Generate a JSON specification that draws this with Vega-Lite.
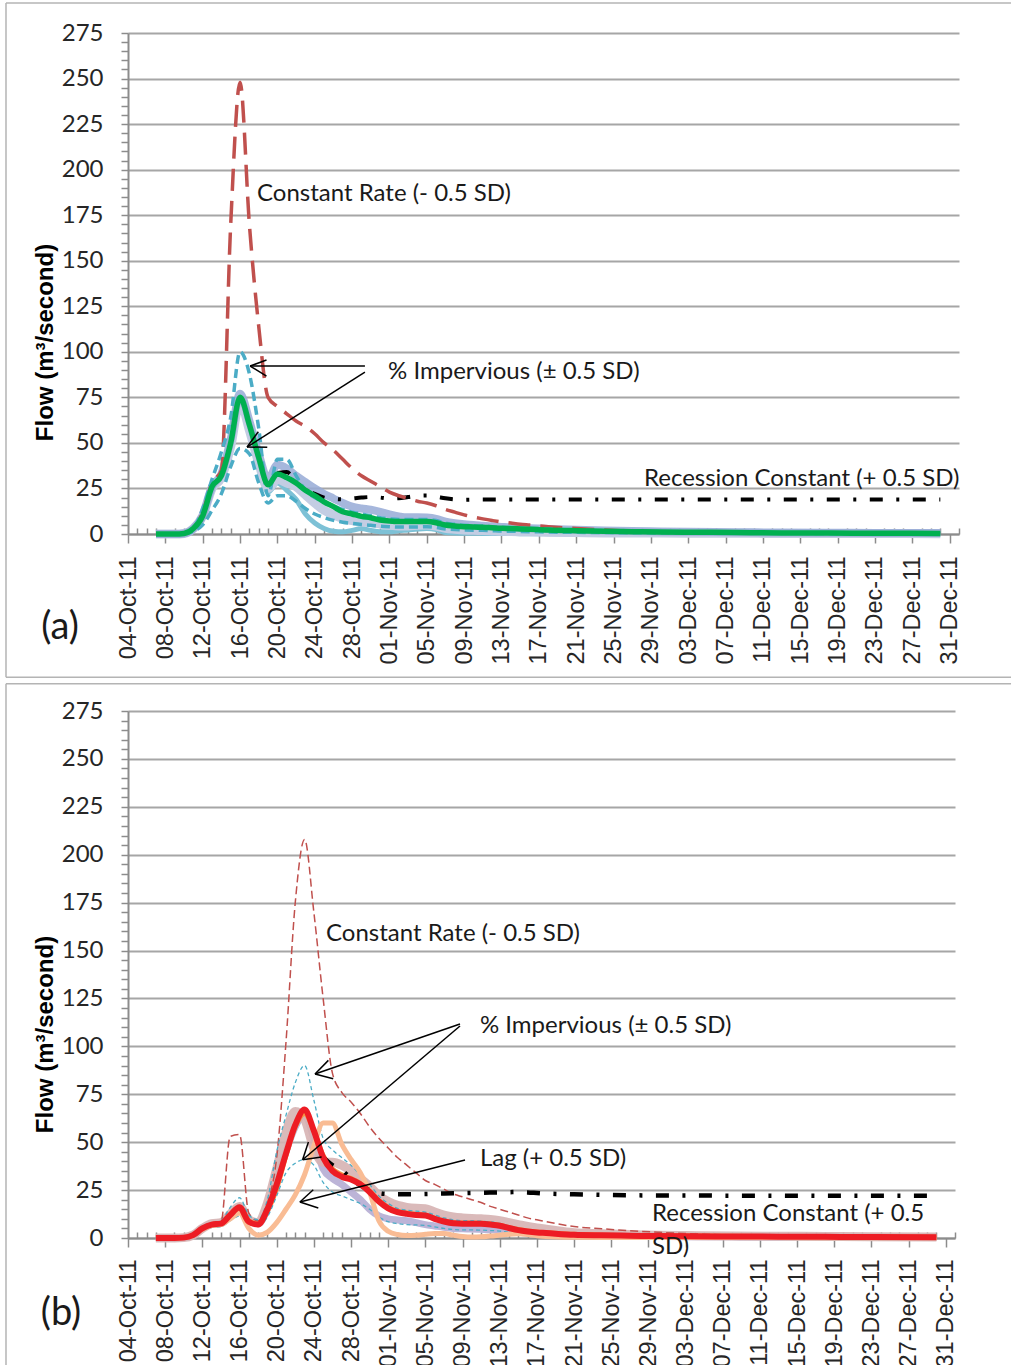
{
 "$schema": "https://vega.github.io/schema/vega-lite/v6.json",
 "padding": {"left": 5, "top": 2, "right": 0, "bottom": 0},
 "background": "white",
 "spacing": 3,
 "config": {"view": {"stroke": null}, "text": {"font": "Lato"}},
 "datasets": {
  "A": [
   {"t":"2011-10-07","g":0,"r":0,"bu":0,"bl":0,"s1":0,"s2":0,"s3":0},
   {"t":"2011-10-08","g":0,"r":0,"bu":0,"bl":0,"s1":0,"s2":0,"s3":0},
   {"t":"2011-10-09","g":0,"r":0,"bu":0,"bl":0,"s1":0,"s2":0,"s3":0},
   {"t":"2011-10-10","g":0.3,"r":0.3,"bu":0.3,"bl":0.3,"s1":0.3,"s2":0.3,"s3":0.3},
   {"t":"2011-10-11","g":3,"r":3,"bu":3,"bl":1.5,"s1":3,"s2":3,"s3":3},
   {"t":"2011-10-12","g":10,"r":12,"bu":14,"bl":5,"s1":10,"s2":10,"s3":10},
   {"t":"2011-10-13","g":26,"r":28,"bu":30,"bl":13,"s1":26,"s2":25,"s3":25},
   {"t":"2011-10-14","g":32,"r":35,"bu":45,"bl":22,"s1":33,"s2":31,"s3":31},
   {"t":"2011-10-15","g":50,"r":170,"bu":64,"bl":37,"s1":52,"s2":48,"s3":48},
   {"t":"2011-10-16","g":75,"r":248,"bu":100,"bl":47,"s1":77,"s2":73,"s3":72},
   {"t":"2011-10-17","g":60,"r":170,"bu":88,"bl":44,"s1":62,"s2":57,"s3":56},
   {"t":"2011-10-18","g":42,"r":114,"bu":58,"bl":28,"s1":44,"s2":39,"s3":37},
   {"t":"2011-10-19","g":27,"r":75,"bu":21,"bl":17,"s1":30,"s2":25,"s3":23},
   {"t":"2011-10-20","g":33,"r":70,"bu":41,"bl":21,"s1":38,"s2":30,"s3":28,"k":33.5},
   {"t":"2011-10-21","g":31,"r":66,"bu":41,"bl":21,"s1":36,"s2":28,"s3":24,"k":34},
   {"t":"2011-10-22","g":28,"r":62,"bu":32,"bl":18,"s1":32,"s2":26,"s3":19,"k":28.5},
   {"t":"2011-10-23","g":24,"r":59,"bu":24,"bl":14,"s1":28.5,"s2":21.5,"s3":11,"k":24.5},
   {"t":"2011-10-24","g":21,"r":55,"bu":20,"bl":11,"s1":25,"s2":17,"s3":6,"k":22},
   {"t":"2011-10-25","g":17.7,"r":50,"bu":17.5,"bl":9,"s1":22,"s2":13,"s3":3,"k":20},
   {"t":"2011-10-26","g":15,"r":46,"bu":15.5,"bl":7.5,"s1":19.5,"s2":10.5,"s3":1.5,"k":19.3},
   {"t":"2011-10-27","g":12.2,"r":41,"bu":13.5,"bl":6.5,"s1":17,"s2":8.6,"s3":1.2,"k":19},
   {"t":"2011-10-28","g":11,"r":36,"bu":12,"bl":5.8,"s1":15,"s2":7.3,"s3":2,"k":19.5},
   {"t":"2011-10-29","g":9.7,"r":32,"bu":11,"bl":5.2,"s1":14,"s2":6.6,"s3":3,"k":20},
   {"t":"2011-10-30","g":8.9,"r":29,"bu":10,"bl":4.8,"s1":13.3,"s2":6.2,"s3":2,"k":20.3},
   {"t":"2011-10-31","g":7.7,"r":26,"bu":9,"bl":4.3,"s1":12.2,"s2":5.5,"s3":1.3,"k":20},
   {"t":"2011-11-01","g":7.1,"r":23,"bu":8.3,"bl":4,"s1":10.8,"s2":4.8,"s3":1.2,"k":19.5},
   {"t":"2011-11-02","g":6.8,"r":21,"bu":8,"bl":3.8,"s1":9.7,"s2":4.4,"s3":1.8,"k":19.6},
   {"t":"2011-11-03","g":6.8,"r":19.5,"bu":8,"bl":3.8,"s1":9.2,"s2":4.4,"s3":2.2,"k":20.3},
   {"t":"2011-11-04","g":6.8,"r":18,"bu":8,"bl":3.9,"s1":9.2,"s2":4.8,"s3":2.7,"k":21},
   {"t":"2011-11-05","g":6.8,"r":17,"bu":8,"bl":4,"s1":9,"s2":5,"s3":3,"k":21.2},
   {"t":"2011-11-06","g":6.2,"r":15.5,"bu":7.4,"bl":3.6,"s1":8.3,"s2":4.4,"s3":2.5,"k":20.5},
   {"t":"2011-11-07","g":4.9,"r":13.5,"bu":6,"bl":2.8,"s1":6.8,"s2":3.1,"s3":0.8,"k":19.6},
   {"t":"2011-11-08","g":4.4,"r":12,"bu":5.3,"bl":2.4,"s1":5.9,"s2":2.6,"s3":0.5,"k":19},
   {"t":"2011-11-09","g":4,"r":10.5,"bu":4.8,"bl":2.2,"s1":5.3,"s2":2.2,"s3":0.4,"k":18.8},
   {"t":"2011-11-10","g":3.9,"r":9.3,"bu":4.6,"bl":2.1,"s1":5,"s2":2,"s3":0.4,"k":18.9},
   {"t":"2011-11-11","g":3.7,"r":8.3,"bu":4.4,"bl":2,"s1":4.6,"s2":1.9,"s3":0.3,"k":19},
   {"t":"2011-11-12","g":3.4,"r":7.4,"bu":4,"bl":1.8,"s1":4.2,"s2":1.7,"s3":0.3,"k":19},
   {"t":"2011-11-13","g":3.1,"r":6.6,"bu":3.7,"bl":1.6,"s1":3.9,"s2":1.5,"s3":0.3,"k":19},
   {"t":"2011-11-14","g":3,"r":6,"bu":3.5,"bl":1.5,"s1":3.6,"s2":1.4,"s3":0.3,"k":19},
   {"t":"2011-11-15","g":2.8,"r":5.4,"bu":3.3,"bl":1.4,"s1":3.4,"s2":1.3,"s3":0.2,"k":19},
   {"t":"2011-11-16","g":2.6,"r":4.9,"bu":3.1,"bl":1.3,"s1":3.2,"s2":1.2,"s3":0.2,"k":19},
   {"t":"2011-11-17","g":2.4,"r":4.4,"bu":2.9,"bl":1.2,"s1":3,"s2":1.1,"s3":0.2,"k":19},
   {"t":"2011-11-18","g":2.2,"r":4,"bu":2.7,"bl":1.1,"s1":2.8,"s2":1,"s3":0.2,"k":19},
   {"t":"2011-11-21","g":1.8,"r":3,"bu":2.2,"bl":0.9,"s1":2.3,"s2":0.8,"s3":0.2,"k":19},
   {"t":"2011-11-24","g":1.5,"r":2.2,"bu":1.8,"bl":0.8,"s1":1.9,"s2":0.6,"s3":0.2,"k":19},
   {"t":"2011-11-27","g":1.3,"r":1.6,"bu":1.5,"bl":0.7,"s1":1.6,"s2":0.5,"s3":0.2,"k":19},
   {"t":"2011-11-30","g":1.1,"r":1.2,"bu":1.3,"bl":0.6,"s1":1.4,"s2":0.5,"s3":0.1,"k":19},
   {"t":"2011-12-03","g":1,"r":0.9,"bu":1.1,"bl":0.5,"s1":1.2,"s2":0.4,"s3":0.1,"k":19},
   {"t":"2011-12-08","g":0.8,"r":0.7,"bu":0.9,"bl":0.4,"s1":1,"s2":0.4,"s3":0.1,"k":19},
   {"t":"2011-12-13","g":0.6,"r":0.6,"bu":0.7,"bl":0.4,"s1":0.8,"s2":0.3,"s3":0.1,"k":19},
   {"t":"2011-12-18","g":0.5,"r":0.5,"bu":0.6,"bl":0.3,"s1":0.7,"s2":0.3,"s3":0.1,"k":19},
   {"t":"2011-12-23","g":0.4,"r":0.4,"bu":0.5,"bl":0.3,"s1":0.6,"s2":0.3,"s3":0.1,"k":19},
   {"t":"2011-12-30","g":0.3,"r":0.3,"bu":0.4,"bl":0.2,"s1":0.5,"s2":0.2,"s3":0.1,"k":19}
  ],
  "B": [
   {"t":"2011-10-07","r":0,"cr":0,"bu":0,"bl":0,"lag":0,"rb":0,"lv":0,"or":0},
   {"t":"2011-10-08","r":0,"cr":0,"bu":0,"bl":0,"lag":0,"rb":0,"lv":0,"or":0},
   {"t":"2011-10-09","r":0,"cr":0,"bu":0,"bl":0,"lag":0,"rb":0,"lv":0,"or":0},
   {"t":"2011-10-10","r":0.2,"cr":0.2,"bu":0.2,"bl":0.2,"lag":0.2,"rb":0.2,"lv":0.2,"or":0.2},
   {"t":"2011-10-11","r":1.5,"cr":1.5,"bu":1.5,"bl":1.5,"lag":1.5,"rb":1.5,"lv":1.5,"or":1.5},
   {"t":"2011-10-12","r":5,"cr":5,"bu":5,"bl":4.5,"lag":4.5,"rb":5,"lv":5,"or":5},
   {"t":"2011-10-13","r":7,"cr":7,"bu":8,"bl":5.5,"lag":6.5,"rb":7.5,"lv":7,"or":7},
   {"t":"2011-10-14","r":7.5,"cr":8,"bu":9,"bl":6,"lag":7,"rb":8,"lv":7.5,"or":7.5},
   {"t":"2011-10-15","r":12,"cr":53,"bu":16,"bl":9,"lag":10,"rb":12.5,"lv":12,"or":12},
   {"t":"2011-10-16","r":16,"cr":54,"bu":21,"bl":11.5,"lag":13,"rb":16.5,"lv":16,"or":16},
   {"t":"2011-10-17","r":8.5,"cr":13,"bu":12,"bl":7,"lag":5,"rb":9.5,"lv":9,"or":9},
   {"t":"2011-10-18","r":7,"cr":9,"bu":9.5,"bl":6.5,"lag":1.5,"rb":8,"lv":7.5,"or":7.5},
   {"t":"2011-10-19","r":15,"cr":18,"bu":20,"bl":11,"lag":3,"rb":18,"lv":15,"or":14},
   {"t":"2011-10-20","r":28,"cr":42,"bu":45,"bl":22,"lag":8,"rb":36,"lv":30,"or":26},
   {"t":"2011-10-21","r":44,"cr":102,"bu":64,"bl":34,"lag":15,"rb":55,"lv":45,"or":43},
   {"t":"2011-10-22","r":59,"cr":175,"bu":81,"bl":39,"lag":22.5,"rb":66,"lv":58,"or":58},
   {"t":"2011-10-23","r":67,"cr":208,"bu":90,"bl":41,"lag":33,"rb":62,"lv":64,"or":65},
   {"t":"2011-10-24","r":56,"cr":170,"bu":72,"bl":38,"lag":48,"rb":47,"lv":52,"or":56},
   {"t":"2011-10-25","r":42,"cr":125,"bu":52,"bl":29,"lag":60,"rb":39.5,"lv":36,"or":43,"k":42},
   {"t":"2011-10-26","r":35,"cr":86,"bu":46,"bl":24,"lag":60,"rb":39.5,"lv":31,"or":36,"k":38},
   {"t":"2011-10-27","r":32,"cr":76,"bu":42,"bl":22,"lag":49,"rb":38,"lv":28,"or":33,"k":35.5},
   {"t":"2011-10-28","r":30.5,"cr":71,"bu":38,"bl":20,"lag":41,"rb":35,"lv":24,"or":31,"k":31},
   {"t":"2011-10-29","r":28,"cr":65,"bu":33,"bl":18,"lag":34,"rb":31,"lv":20,"or":28.5,"k":27.5},
   {"t":"2011-10-30","r":24,"cr":58,"bu":28,"bl":15,"lag":24,"rb":27,"lv":15,"or":24.5,"k":25},
   {"t":"2011-10-31","r":19,"cr":52,"bu":22,"bl":11,"lag":9,"rb":22,"lv":11.5,"or":19.5,"k":23.5},
   {"t":"2011-11-01","r":15.5,"cr":47,"bu":18,"bl":8.5,"lag":3.5,"rb":19,"lv":10,"or":16,"k":23},
   {"t":"2011-11-02","r":13.5,"cr":42,"bu":15.5,"bl":7.5,"lag":1.8,"rb":17,"lv":9.4,"or":14,"k":22.8},
   {"t":"2011-11-03","r":12.6,"cr":38,"bu":14.5,"bl":7,"lag":1.3,"rb":16,"lv":9,"or":13,"k":22.8},
   {"t":"2011-11-04","r":12,"cr":34,"bu":14,"bl":6.8,"lag":1.4,"rb":15.5,"lv":8,"or":12.3,"k":22.9},
   {"t":"2011-11-05","r":11.8,"cr":30,"bu":13.5,"bl":6.6,"lag":1.9,"rb":15.3,"lv":7,"or":12,"k":23},
   {"t":"2011-11-06","r":10,"cr":28,"bu":12,"bl":5.8,"lag":2.3,"rb":13.5,"lv":6.3,"or":10.3,"k":23.1},
   {"t":"2011-11-07","r":8.6,"cr":25.5,"bu":10.5,"bl":5,"lag":2.3,"rb":12,"lv":5.6,"or":8.9,"k":23.2},
   {"t":"2011-11-08","r":7.7,"cr":23,"bu":9.5,"bl":4.4,"lag":1.5,"rb":11,"lv":5,"or":8,"k":23.3},
   {"t":"2011-11-09","r":7.5,"cr":21.5,"bu":9,"bl":4.2,"lag":0.8,"rb":10.5,"lv":4.8,"or":7.8,"k":23.4},
   {"t":"2011-11-10","r":7.5,"cr":20,"bu":9,"bl":4.2,"lag":0.5,"rb":10.2,"lv":4.7,"or":7.8,"k":23.5},
   {"t":"2011-11-11","r":7.4,"cr":18.5,"bu":8.8,"bl":4.1,"lag":0.6,"rb":10,"lv":4.5,"or":7.7,"k":23.6},
   {"t":"2011-11-12","r":7,"cr":16.5,"bu":8.4,"bl":3.9,"lag":1,"rb":9.7,"lv":4.3,"or":7.3,"k":23.7},
   {"t":"2011-11-13","r":6.4,"cr":15,"bu":7.6,"bl":3.6,"lag":1.5,"rb":9,"lv":4,"or":6.7,"k":23.8},
   {"t":"2011-11-14","r":5.2,"cr":13.5,"bu":6.3,"bl":3,"lag":2,"rb":8,"lv":3.5,"or":5.5,"k":23.9},
   {"t":"2011-11-15","r":4.1,"cr":12,"bu":5,"bl":2.4,"lag":2.2,"rb":7,"lv":3,"or":4.4,"k":24},
   {"t":"2011-11-16","r":3.4,"cr":10.5,"bu":4.2,"bl":2,"lag":1.8,"rb":6,"lv":2.5,"or":3.6,"k":23.8},
   {"t":"2011-11-17","r":2.9,"cr":9.5,"bu":3.5,"bl":1.7,"lag":1.2,"rb":5.2,"lv":2.2,"or":3.1,"k":23.5},
   {"t":"2011-11-18","r":2.6,"cr":8.5,"bu":3.1,"bl":1.5,"lag":0.8,"rb":4.6,"lv":2,"or":2.8,"k":23.2},
   {"t":"2011-11-21","r":1.7,"cr":6,"bu":2.1,"bl":1.1,"lag":0.4,"rb":2.8,"lv":1.4,"or":1.9,"k":22.8},
   {"t":"2011-11-24","r":1.4,"cr":4.8,"bu":1.7,"bl":0.9,"lag":0.3,"rb":2.2,"lv":1.1,"or":1.5,"k":22.5},
   {"t":"2011-11-27","r":1.2,"cr":3.8,"bu":1.4,"bl":0.8,"lag":0.3,"rb":1.8,"lv":0.9,"or":1.3,"k":22.3},
   {"t":"2011-11-30","r":1,"cr":3,"bu":1.2,"bl":0.7,"lag":0.2,"rb":1.5,"lv":0.8,"or":1.1,"k":22.2},
   {"t":"2011-12-03","r":0.9,"cr":2.3,"bu":1.1,"bl":0.6,"lag":0.2,"rb":1.3,"lv":0.7,"or":1,"k":22.2},
   {"t":"2011-12-08","r":0.8,"cr":1.5,"bu":0.9,"bl":0.5,"lag":0.2,"rb":1,"lv":0.6,"or":0.85,"k":22.1},
   {"t":"2011-12-13","r":0.7,"cr":1,"bu":0.8,"bl":0.5,"lag":0.2,"rb":0.9,"lv":0.5,"or":0.75,"k":22.1},
   {"t":"2011-12-18","r":0.6,"cr":0.8,"bu":0.7,"bl":0.4,"lag":0.1,"rb":0.8,"lv":0.5,"or":0.65,"k":22},
   {"t":"2011-12-23","r":0.5,"cr":0.6,"bu":0.6,"bl":0.4,"lag":0.1,"rb":0.7,"lv":0.4,"or":0.55,"k":22},
   {"t":"2011-12-30","r":0.4,"cr":0.5,"bu":0.5,"bl":0.3,"lag":0.1,"rb":0.5,"lv":0.3,"or":0.45,"k":22}
  ],
  "textA": [
   {"t":"2011-10-17T19:40Z","v":186.6,"label":"Constant Rate (- 0.5 SD)"},
   {"t":"2011-10-31T20:24Z","v":88.9,"label":"% Impervious (± 0.5 SD)"},
   {"t":"2011-11-28T06:15Z","v":30.2,"label":"Recession Constant (+ 0.5 SD)"}
  ],
  "tagA": [{"t":"2011-09-26T17:20Z","v":-51.6,"label":"(a)"}],
  "arrowA": [
   {"t":"2011-10-29T09:00Z","v":92.2,"t2":"2011-10-17T02:00Z","v2":92.2},
   {"t":"2011-10-17T02:00Z","v":92.2,"t2":"2011-10-18T20:00Z","v2":95.5},
   {"t":"2011-10-17T02:00Z","v":92.2,"t2":"2011-10-18T20:00Z","v2":86.7},
   {"t":"2011-10-29T09:00Z","v":88.9,"t2":"2011-10-16T18:00Z","v2":47.75},
   {"t":"2011-10-16T18:00Z","v":47.75,"t2":"2011-10-17T23:00Z","v2":56.15},
   {"t":"2011-10-16T18:00Z","v":47.75,"t2":"2011-10-18T22:00Z","v2":47.6}
  ],
  "frameA": [
   {"t":"2011-09-20T22:24Z","v":291.5,"t2":"2012-01-06T13:40Z","v2":291.5},
   {"t":"2011-09-20T22:24Z","v":-78.66,"t2":"2012-01-06T13:40Z","v2":-78.66},
   {"t":"2011-09-20T22:24Z","v":291.5,"t2":"2011-09-20T22:24Z","v2":-78.66}
  ],
  "textB": [
   {"t":"2011-10-25T07:30Z","v":158.6,"label":"Constant Rate (- 0.5 SD)"},
   {"t":"2011-11-10T21:00Z","v":110.6,"label":"% Impervious (± 0.5 SD)"},
   {"t":"2011-11-10T21:00Z","v":41.2,"label":"Lag (+ 0.5 SD)"},
   {"t":"2011-11-29T09:20Z","v":12.5,"label":"Recession Constant (+ 0.5"},
   {"t":"2011-11-29T09:20Z","v":-4.7,"label":"SD)"}
  ],
  "tagB": [{"t":"2011-09-26T19:00Z","v":-39.7,"label":"(b)"}],
  "arrowB": [
   {"t":"2011-11-08T17:30Z","v":111.7,"t2":"2011-10-24T03:00Z","v2":85.6},
   {"t":"2011-10-24T03:00Z","v":85.6,"t2":"2011-10-25T13:30Z","v2":92.7},
   {"t":"2011-10-24T03:00Z","v":85.6,"t2":"2011-10-26T02:00Z","v2":83.1},
   {"t":"2011-11-08T17:30Z","v":110.6,"t2":"2011-10-22T19:00Z","v2":40.86},
   {"t":"2011-10-22T19:00Z","v":40.86,"t2":"2011-10-23T10:00Z","v2":50.1},
   {"t":"2011-10-22T19:00Z","v":40.86,"t2":"2011-10-24T20:00Z","v2":42.3},
   {"t":"2011-11-09T06:30Z","v":40.7,"t2":"2011-10-22T12:00Z","v2":18.8},
   {"t":"2011-10-22T12:00Z","v":18.8,"t2":"2011-10-23T22:30Z","v2":25.2},
   {"t":"2011-10-22T12:00Z","v":18.8,"t2":"2011-10-24T11:30Z","v2":15.65}
  ],
  "frameB": [
   {"t":"2011-09-20T20:53Z","v":289.25,"t2":"2012-01-07T00:43Z","v2":289.25},
   {"t":"2011-09-20T20:53Z","v":289.25,"t2":"2011-09-20T20:53Z","v2":-66.5}
  ]
 },
 "vconcat": [
  {
   "width": 831,
   "height": 501,
   "data": {"name": "A"},
   "encoding": {
    "x": {
     "field": "t", "type": "temporal",
     "scale": {"type": "utc", "domain": [{"year": 2011, "month": 10, "date": 4, "utc": true}, {"year": 2012, "month": 1, "date": 1, "utc": true}]},
     "axis": {
      "title": null, "grid": false,
      "tickCount": {"interval": "day", "step": 1},
      "labelExpr": "(datum.value - utc(2011,9,4)) % 345600000 == 0 ? utcFormat(datum.value, '%d-%b-%y') : ''",
      "labelAngle": -90, "labelFont": "Liberation Sans", "labelFontSize": 23.5, "labelColor": "#262626",
      "labelPadding": 13, "labelOverlap": false, "labelBound": false, "labelFlush": false,
      "tickSize": {"condition": {"test": "(datum.value - utc(2011,9,4)) % 345600000 == 0", "value": 9}, "value": -6},
      "tickColor": "#8C8C8C", "tickWidth": 1.5, "domainColor": "#8C8C8C", "domainWidth": 2
     }
    },
    "y": {
     "field": "v", "type": "quantitative",
     "scale": {"domain": [0, 275], "nice": false},
     "axis": {
      "values": [0,5,10,15,20,25,30,35,40,45,50,55,60,65,70,75,80,85,90,95,100,105,110,115,120,125,130,135,140,145,150,155,160,165,170,175,180,185,190,195,200,205,210,215,220,225,230,235,240,245,250,255,260,265,270,275],
      "labelExpr": "datum.value % 25 == 0 ? datum.label : ''",
      "grid": true, "gridColor": "#A6A6A6", "gridWidth": 2,
      "gridOpacity": {"condition": {"test": "datum.value % 25 == 0", "value": 1}, "value": 0},
      "tickSize": 7, "tickColor": "#8C8C8C", "tickWidth": 1.5, "domainColor": "#8C8C8C", "domainWidth": 2,
      "labelFont": "Lato", "labelFontSize": 24, "labelColor": "#262626", "labelPadding": 18, "labelOverlap": false,
      "title": "Flow (m³/second)", "titleFont": "Liberation Sans", "titleFontSize": 24, "titleFontWeight": "bold",
      "titleColor": "#000000", "titlePadding": 4, "titleY": 309
     }
    }
   },
   "layer": [
    {"transform": [{"fold": ["s3"], "as": ["s", "v"]}], "mark": {"type": "line", "interpolate": "monotone", "color": "#7DC1D6", "strokeWidth": 5, "strokeJoin": "round"}},
    {"transform": [{"fold": ["s2"], "as": ["s", "v"]}], "mark": {"type": "line", "interpolate": "monotone", "color": "#C3CDE3", "strokeWidth": 9, "strokeJoin": "round"}},
    {"transform": [{"fold": ["s1"], "as": ["s", "v"]}], "mark": {"type": "line", "interpolate": "monotone", "color": "#97AAD6", "strokeWidth": 8, "opacity": 0.85, "strokeJoin": "round"}},
    {"transform": [{"fold": ["k"], "as": ["s", "v"]}], "mark": {"type": "line", "interpolate": "monotone", "color": "#000000", "strokeWidth": 4, "strokeDash": [13, 13.5, 3, 13.5]}},
    {"transform": [{"fold": ["r"], "as": ["s", "v"]}], "mark": {"type": "line", "interpolate": "monotone", "color": "#C0504D", "strokeWidth": 3.5, "strokeDash": [22, 10]}},
    {"transform": [{"fold": ["bu"], "as": ["s", "v"]}], "mark": {"type": "line", "interpolate": "monotone", "color": "#4BACC6", "strokeWidth": 3.5, "strokeDash": [9, 5]}},
    {"transform": [{"fold": ["bl"], "as": ["s", "v"]}], "mark": {"type": "line", "interpolate": "monotone", "color": "#4BACC6", "strokeWidth": 3.5, "strokeDash": [9, 5]}},
    {"transform": [{"fold": ["g"], "as": ["s", "v"]}], "mark": {"type": "line", "interpolate": "monotone", "color": "#00B050", "strokeWidth": 5.5, "strokeJoin": "round"}},
    {"data": {"name": "frameA"}, "mark": {"type": "rule", "color": "#B4B4B4", "strokeWidth": 1.5}, "encoding": {"x2": {"field": "t2"}, "y2": {"field": "v2"}}},
    {"data": {"name": "arrowA"}, "mark": {"type": "rule", "color": "#000000", "strokeWidth": 1.5}, "encoding": {"x2": {"field": "t2"}, "y2": {"field": "v2"}}},
    {"data": {"name": "textA"}, "mark": {"type": "text", "align": "left", "baseline": "middle", "font": "Lato", "fontSize": 24, "color": "#1A1A1A"}, "encoding": {"text": {"field": "label"}}},
    {"data": {"name": "tagA"}, "mark": {"type": "text", "align": "center", "baseline": "middle", "font": "Lato", "fontSize": 38, "color": "#1A1A1A"}, "encoding": {"text": {"field": "label"}}}
   ]
  },
  {
   "width": 827,
   "height": 527,
   "data": {"name": "B"},
   "encoding": {
    "x": {
     "field": "t", "type": "temporal",
     "scale": {"type": "utc", "domain": [{"year": 2011, "month": 10, "date": 4, "utc": true}, {"year": 2012, "month": 1, "date": 1, "utc": true}]},
     "axis": {
      "title": null, "grid": false,
      "tickCount": {"interval": "day", "step": 1},
      "labelExpr": "(datum.value - utc(2011,9,4)) % 345600000 == 0 ? utcFormat(datum.value, '%d-%b-%y') : ''",
      "labelAngle": -90, "labelFont": "Liberation Sans", "labelFontSize": 23.5, "labelColor": "#262626",
      "labelPadding": 12, "labelOverlap": false, "labelBound": false, "labelFlush": false,
      "tickSize": {"condition": {"test": "(datum.value - utc(2011,9,4)) % 345600000 == 0", "value": 9}, "value": -6},
      "tickColor": "#8C8C8C", "tickWidth": 1.5, "domainColor": "#8C8C8C", "domainWidth": 2
     }
    },
    "y": {
     "field": "v", "type": "quantitative",
     "scale": {"domain": [0, 275], "nice": false},
     "axis": {
      "values": [0,5,10,15,20,25,30,35,40,45,50,55,60,65,70,75,80,85,90,95,100,105,110,115,120,125,130,135,140,145,150,155,160,165,170,175,180,185,190,195,200,205,210,215,220,225,230,235,240,245,250,255,260,265,270,275],
      "labelExpr": "datum.value % 25 == 0 ? datum.label : ''",
      "grid": true, "gridColor": "#A6A6A6", "gridWidth": 2,
      "gridOpacity": {"condition": {"test": "datum.value % 25 == 0", "value": 1}, "value": 0},
      "tickSize": 7, "tickColor": "#8C8C8C", "tickWidth": 1.5, "domainColor": "#8C8C8C", "domainWidth": 2,
      "labelFont": "Lato", "labelFontSize": 24, "labelColor": "#262626", "labelPadding": 18, "labelOverlap": false,
      "title": "Flow (m³/second)", "titleFont": "Liberation Sans", "titleFontSize": 24, "titleFontWeight": "bold",
      "titleColor": "#000000", "titlePadding": 4, "titleY": 323
     }
    }
   },
   "layer": [
    {"transform": [{"fold": ["lv"], "as": ["s", "v"]}], "mark": {"type": "line", "interpolate": "monotone", "color": "#B5ACD3", "strokeWidth": 7, "opacity": 0.9, "strokeJoin": "round"}},
    {"transform": [{"fold": ["rb"], "as": ["s", "v"]}], "mark": {"type": "line", "interpolate": "monotone", "color": "#D6B3B3", "strokeWidth": 9, "opacity": 0.9, "strokeJoin": "round"}},
    {"transform": [{"fold": ["or"], "as": ["s", "v"]}], "mark": {"type": "line", "interpolate": "monotone", "color": "#F79646", "strokeWidth": 5, "strokeJoin": "round"}},
    {"transform": [{"fold": ["cr"], "as": ["s", "v"]}], "mark": {"type": "line", "interpolate": "monotone", "color": "#C0504D", "strokeWidth": 1.5, "strokeDash": [8, 4]}},
    {"transform": [{"fold": ["bu"], "as": ["s", "v"]}], "mark": {"type": "line", "interpolate": "monotone", "color": "#4BACC6", "strokeWidth": 1.3, "strokeDash": [4, 3]}},
    {"transform": [{"fold": ["bl"], "as": ["s", "v"]}], "mark": {"type": "line", "interpolate": "monotone", "color": "#4BACC6", "strokeWidth": 1.3, "strokeDash": [4, 3]}},
    {"transform": [{"fold": ["lag"], "as": ["s", "v"]}], "mark": {"type": "line", "interpolate": "monotone", "color": "#F9BC94", "strokeWidth": 5, "strokeJoin": "round"}},
    {"transform": [{"fold": ["k"], "as": ["s", "v"]}], "mark": {"type": "line", "interpolate": "monotone", "color": "#000000", "strokeWidth": 4.5, "strokeDash": [13, 13.5, 3, 13.5]}},
    {"transform": [{"fold": ["r"], "as": ["s", "v"]}], "mark": {"type": "line", "interpolate": "monotone", "color": "#ED1C24", "strokeWidth": 6, "strokeJoin": "round"}},
    {"data": {"name": "frameB"}, "mark": {"type": "rule", "color": "#B4B4B4", "strokeWidth": 1.5}, "encoding": {"x2": {"field": "t2"}, "y2": {"field": "v2"}}},
    {"data": {"name": "arrowB"}, "mark": {"type": "rule", "color": "#000000", "strokeWidth": 1.5}, "encoding": {"x2": {"field": "t2"}, "y2": {"field": "v2"}}},
    {"data": {"name": "textB"}, "mark": {"type": "text", "align": "left", "baseline": "middle", "font": "Lato", "fontSize": 24, "color": "#1A1A1A"}, "encoding": {"text": {"field": "label"}}},
    {"data": {"name": "tagB"}, "mark": {"type": "text", "align": "center", "baseline": "middle", "font": "Lato", "fontSize": 38, "color": "#1A1A1A"}, "encoding": {"text": {"field": "label"}}}
   ]
  }
 ]
}
